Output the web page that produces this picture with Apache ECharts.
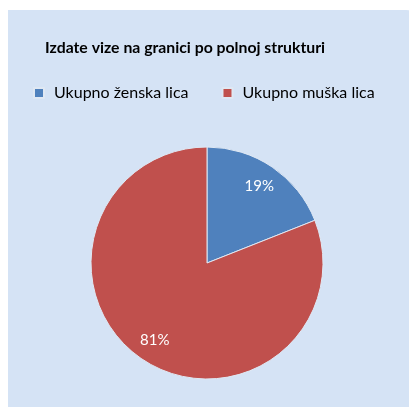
<!DOCTYPE html>
<html><head><meta charset="utf-8">
<script src="https://cdn.jsdelivr.net/npm/echarts@6/dist/echarts.min.js"></script>
<style>
html,body{margin:0;padding:0;background:#fff;width:409px;height:407px;overflow:hidden}
#panel{position:absolute;left:8px;top:10px;width:440px;height:420px;background:#d5e3f5;border-top-right-radius:42px}
#c{position:absolute;left:0;top:0;width:409px;height:407px}
</style></head>
<body><div id="panel"></div><div id="c"></div>
<script>
const titleText = 'Izdate vize na granici po polnoj strukturi';
const categories = ['Ukupno ženska lica', 'Ukupno muška lica'];
const values = [19, 81];
const colors = ['#4f81bd', '#c0504d'];

const chart = echarts.init(document.getElementById('c'), null, {renderer: 'canvas'});
const data = categories.map((n, i) => ({name: n, value: values[i], itemStyle: {color: colors[i]}}));
const center = [207, 263];
chart.setOption({
  backgroundColor: 'transparent',
  animation: false,
  title: {text: titleText, left: 40, top: 35,
    textStyle: {fontFamily: 'Lato', fontWeight: 'bold', fontSize: 15.8, color: '#000'}},
  legend: {data: categories, left: 28, top: 80, itemWidth: 10, itemHeight: 10, itemGap: 33,
    icon: 'rect', textStyle: {fontFamily: 'Lato', fontSize: 16, color: '#000', padding: [0,0,0,5]}},
  series: [
    {type: 'pie', radius: [0, 116], center: center, startAngle: 90, clockwise: true,
     data: data, label: {show: false}, labelLine: {show: false},
     itemStyle: {borderColor: '#dfe8f3', borderWidth: 1}},
    {type: 'pie', radius: [60, 120], center: center, startAngle: 90, clockwise: true, silent: true,
     data: categories.map((n, i) => ({name: n, value: values[i], itemStyle: {color: 'rgba(0,0,0,0)'}})),
     legendHoverLink: false,
     label: {show: true, position: 'inside', formatter: p => p.value + '%', color: '#fff',
       fontFamily: 'Lato', fontSize: 15}, labelLine: {show: false}}
  ]
});
</script></body></html>
